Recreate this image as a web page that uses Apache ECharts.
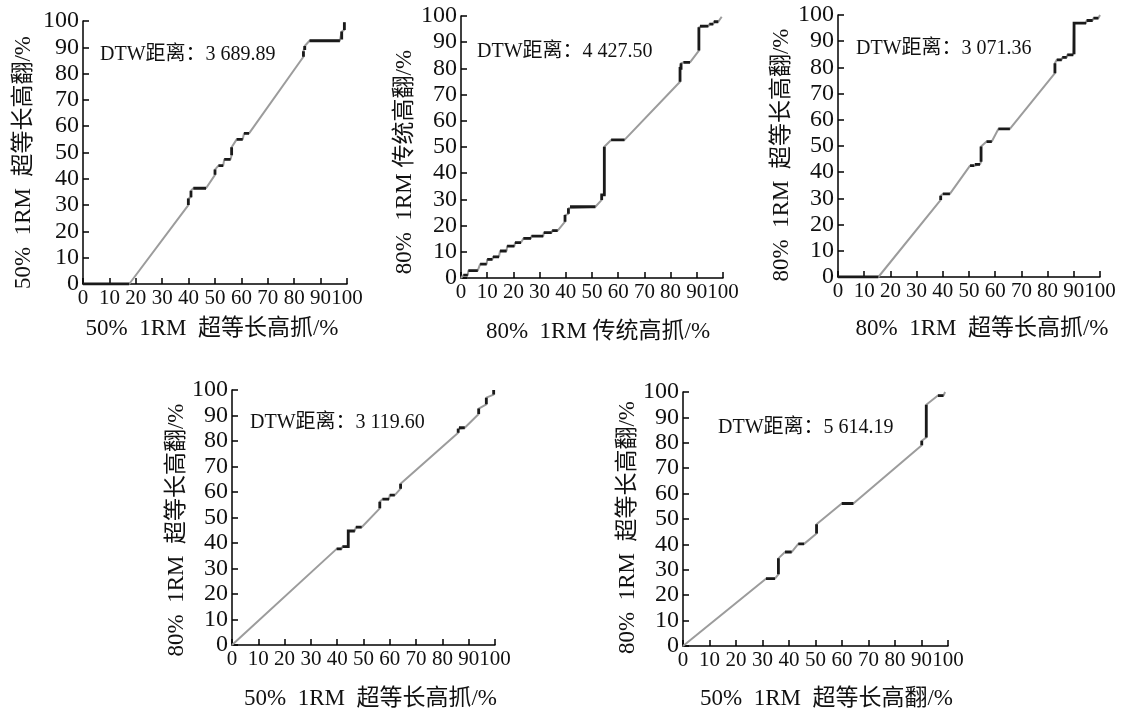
<!DOCTYPE html>
<html><head><meta charset="utf-8">
<script src="https://cdn.jsdelivr.net/npm/echarts@6/dist/echarts.min.js"></script>
<style>html,body{margin:0;padding:0;background:#fff}#c{width:1126px;height:711px}</style>
</head><body><div id="c"></div>
<script>
// ---- data ----
const xNames = ['50%  1RM  超等长高抓/%', '80%  1RM 传统高抓/%', '80%  1RM  超等长高抓/%', '50%  1RM  超等长高抓/%', '50%  1RM  超等长高翻/%'];
const yNames = ['50%  1RM  超等长高翻/%', '80%  1RM 传统高翻/%', '80%  1RM  超等长高翻/%', '80%  1RM  超等长高翻/%', '80%  1RM  超等长高翻/%'];
const dtwLabels = ['DTW距离：3 689.89', 'DTW距离：4 427.50', 'DTW距离：3 071.36', 'DTW距离：3 119.60', 'DTW距离：5 614.19'];

// warping paths (x %, y %)
const path1 = [[0,0],[17.5,0],[39.9,30],[39.9,32.5],[40.9,33],[40.9,35.5],[41.8,36.4],[46.6,36.4],[50,41.5],[50,43.5],[51.3,45],[53.1,45],[53.5,47.4],[55.9,47.4],[56.3,49],[56.3,52],[58.2,55],[60.5,55],[61,57.3],[62.9,57.3],[83.5,86.4],[83.5,88.5],[84,89],[84,90.5],[85.8,92.5],[97.3,92.5],[98,93],[98,96],[99,96.6],[99,99.5]];
const path2 = [[0,0],[0.9,1.1],[2.6,1.1],[2.8,2.8],[6.4,2.8],[7.3,5.3],[9.8,5.3],[10,7.1],[12,7.1],[12.2,8.1],[14.5,8.1],[14.9,10.3],[17.4,10.3],[17.6,12.2],[20.4,12.2],[20.6,13.5],[22.9,13.5],[23.8,15.1],[26.7,15.1],[26.9,16],[31.4,16],[31.6,17.3],[34.6,17.3],[34.8,18.1],[36.9,18.1],[39.7,21.5],[39.7,24],[41,24.5],[41,26.6],[41.6,27.2],[51.3,27.2],[53.7,29.8],[53.7,31.7],[54.7,31.7],[54.7,50.1],[57.3,52.7],[62.4,52.7],[83.6,74.9],[83.6,80],[84,80],[84,82],[84.9,82.3],[87.4,82.3],[90.8,86.8],[90.8,95.7],[91.2,96.1],[94.4,96.1],[94.8,96.9],[96.3,96.9],[96.5,97.8],[98.2,97.8],[99.5,99.7]];
const path3 = [[0,0],[15.4,0],[39.2,29.4],[39.2,31],[40,31.7],[42.7,31.7],[50.4,42.5],[52,42.5],[52.2,43],[54.2,43],[54.6,44],[54.6,49.8],[56.7,51.7],[58.7,51.7],[61.2,56.5],[65.6,56.5],[82.8,77.8],[82.8,81.6],[83.5,82.9],[85.4,82.9],[85.6,83.8],[87.3,83.8],[87.5,84.8],[89.8,84.8],[90.1,85],[90.1,96.9],[94.7,96.9],[94.9,97.9],[97.2,97.9],[97.5,98.8],[99.4,98.8],[100,100]];
const path4 = [[0,0],[39.8,37.7],[41.7,37.7],[42,38.6],[44.2,38.6],[44.2,44.7],[46.7,44.7],[47.1,46.2],[49.3,46.2],[56.2,53.6],[56.2,56.2],[57.2,57.2],[59.7,57.2],[60,58.8],[61.9,58.8],[64.1,61.3],[64.1,63.2],[86,83.2],[86,84.8],[86.3,85.2],[88.5,85.2],[93.8,90.6],[93.8,92.7],[96.7,94.4],[96.7,97],[99.5,98.2],[99.5,100]];
const path5 = [[0,0],[31.3,26.5],[34.7,26.5],[36,28.2],[36,34.5],[38.5,37],[41,37],[43.5,40.2],[45.7,40.2],[50.4,44.3],[50.4,47.9],[59.9,56.1],[64.3,56.1],[90.1,79],[90.1,80.8],[91.8,82.1],[91.8,95],[96.2,98.6],[98.3,98.6],[98.9,100]];
const paths = [path1, path2, path3, path4, path5];

// ---- layout ----
const grids = [
  {left: 83, top: 21, width: 264, height: 263},
  {left: 461, top: 16, width: 262, height: 262},
  {left: 838, top: 15, width: 262, height: 262},
  {left: 232, top: 390, width: 263, height: 262},
  {left: 683, top: 392, width: 265, height: 262}
];
const dtwPos = [[100, 55], [477, 52], [856, 49], [250, 423], [718, 428]];
const xNameGap = [33, 42, 40, 42, 41];
const xNamePad = [[0, 6, 0, 0], [0, 0, 0, 12], [0, 0, 0, 26], [0, 0, 0, 14], [0, 0, 0, 22]];
const yNameGap = [48, 45, 45, 44, 43];
const yNamePad = [[0, 20, 0, 0], [0, 30, 0, 0], [0, 18, 0, 0], [0, 25, 0, 0], [0, 17, 0, 0]];

const serif = "'Liberation Serif', 'Times New Roman', 'Noto Sans CJK SC', serif";
const cjk = "'Liberation Serif', 'Noto Sans CJK SC', serif";

function stepSegments(path) {
  const segs = []; let cur = null;
  for (let i = 1; i < path.length; i++) {
    const a = path[i - 1], b = path[i];
    if (a[0] === b[0] || a[1] === b[1]) {
      if (!cur) { cur = [a]; segs.push(cur); }
      cur.push(b);
    } else cur = null;
  }
  return segs;
}

const axisCommon = {
  type: 'value', min: 0, max: 100, interval: 10,
  axisLine: {show: true, onZero: false, lineStyle: {color: '#000', width: 1.5}},
  axisTick: {show: true, inside: true, length: 6, lineStyle: {color: '#000', width: 1.5}},
  splitLine: {show: false},
  nameLocation: 'middle'
};

const xAxis = [], yAxis = [], series = [], graphic = [];
paths.forEach((p, i) => {
  xAxis.push(Object.assign({}, axisCommon, {
    gridIndex: i, name: xNames[i], nameGap: xNameGap[i],
    nameTextStyle: {fontFamily: cjk, fontSize: 23, color: '#111', padding: xNamePad[i]},
    axisLabel: {fontFamily: serif, fontSize: 21, color: '#111', margin: 4, hideOverlap: false, showMinLabel: true, showMaxLabel: true}
  }));
  yAxis.push(Object.assign({}, axisCommon, {
    gridIndex: i, name: yNames[i], nameGap: yNameGap[i], nameRotate: 90,
    nameTextStyle: {fontFamily: cjk, fontSize: 23, color: '#111', padding: yNamePad[i]},
    axisLabel: {fontFamily: serif, fontSize: 24, color: '#111', margin: 4, hideOverlap: false, showMinLabel: true, showMaxLabel: true}
  }));
  series.push({
    type: 'line', xAxisIndex: i, yAxisIndex: i, data: p, symbol: 'none', silent: true, clip: false,
    lineStyle: {color: '#9c9c9c', width: 2}, z: 2
  });
  series.push({
    type: 'lines', coordinateSystem: 'cartesian2d', xAxisIndex: i, yAxisIndex: i, polyline: true, silent: true,
    data: stepSegments(p).map(s => ({coords: s})),
    lineStyle: {color: '#1a1a1a', width: 2.8, opacity: 1}, z: 3
  });
  graphic.push({
    type: 'text', x: dtwPos[i][0], y: dtwPos[i][1],
    style: {text: dtwLabels[i], fontFamily: cjk, fontSize: 20, fill: '#111', verticalAlign: 'middle', align: 'left'}
  });
});

const chart = echarts.init(document.getElementById('c'), null, {renderer: 'canvas'});
chart.setOption({
  animation: false,
  backgroundColor: '#fff',
  grid: grids.map(g => Object.assign({containLabel: false}, g)),
  xAxis, yAxis, series, graphic
});
</script></body></html>
